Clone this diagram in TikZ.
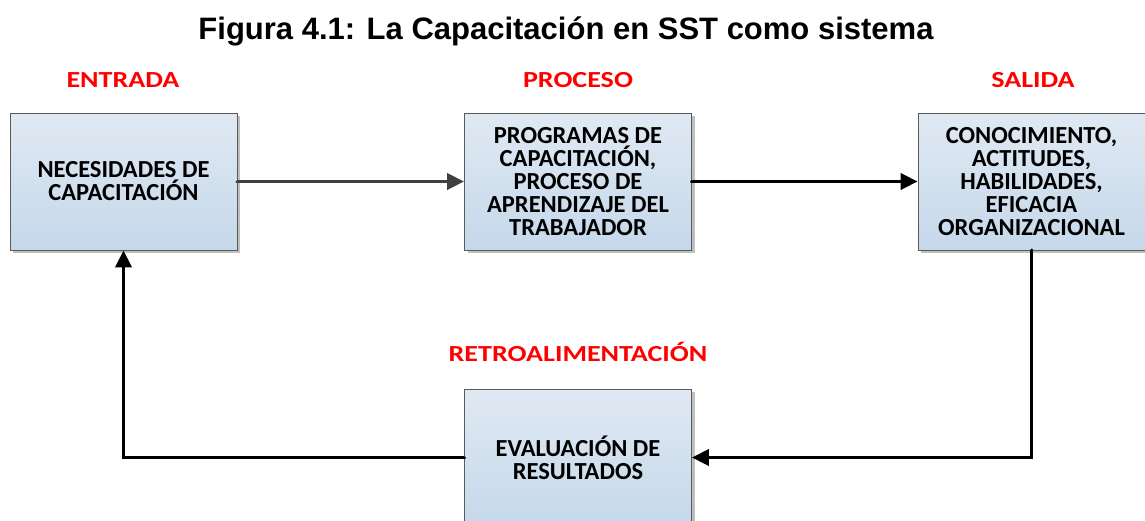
\documentclass[tikz,border=0pt]{standalone}
\usepackage{fontspec}
\setmainfont{Carlito}
\newfontfamily\titlefont{Liberation Sans}
\newfontfamily\lblfont[FakeStretch=1.22]{Carlito}
\usetikzlibrary{arrows.meta, shadows}
\definecolor{boxtop}{RGB}{224,233,243}
\definecolor{boxbot}{RGB}{197,216,234}
\definecolor{boxline}{RGB}{90,90,90}
\definecolor{lblred}{RGB}{255,0,0}

\begin{document}
\begin{tikzpicture}[x=1pt,y=-1pt,
    caja/.style={draw=boxline, line width=0.8pt, top color=boxtop, bottom color=boxbot,
        minimum width=227pt, minimum height=137pt, align=center, inner sep=4pt,
        font=\fontsize{24.5}{23}\selectfont\bfseries,
        drop shadow={shadow xshift=3pt, shadow yshift=-3pt, fill=black!25, opacity=1}},
    etiqueta/.style={text=lblred, font=\lblfont\fontsize{23}{26}\selectfont\bfseries},
    flecha/.style={line width=3.8pt, line cap=round, -{Triangle[length=17pt,width=16pt]}}]
    \useasboundingbox (0,0) rectangle (1145,520);
    \begin{scope}
    \clip (0,0) rectangle (1145,520);
    \node (titulo) at (566,31) {\titlefont\fontsize{31}{34}\selectfont\bfseries Figura 4.1: La Capacitación en SST como sistema};
    \node[etiqueta] (ent) at (123,80) {ENTRADA};
    \node[etiqueta] (pro) at (578,80) {PROCESO};
    \node[etiqueta] (sal) at (1033,80) {SALIDA};
    \node[etiqueta] (retro) at (578,352) {RETROALIMENTACIÓN};
    \node[caja] (nec) at (123.5,181.5) {NECESIDADES DE\\CAPACITACIÓN};
    \node[caja] (prog) at (578,181.5) {PROGRAMAS DE\\CAPACITACIÓN,\\PROCESO DE\\APRENDIZAJE DEL\\TRABAJADOR};
    \node[caja] (con) at (1031.5,181.5) {CONOCIMIENTO,\\ACTITUDES,\\HABILIDADES,\\EFICACIA\\ORGANIZACIONAL};
    \node[caja] (eval) at (578,457.5) {EVALUACIÓN DE\\RESULTADOS};
    % flechas
    \draw[flecha, black!75] (nec.east) -- (prog.west);
    \draw[flecha] (prog.east) -- (con.west);
    \draw[flecha] (con.south) |- (eval.east);
    \draw[flecha] (eval.west) -| (nec.south);
    \end{scope}
\end{tikzpicture}
\end{document}
